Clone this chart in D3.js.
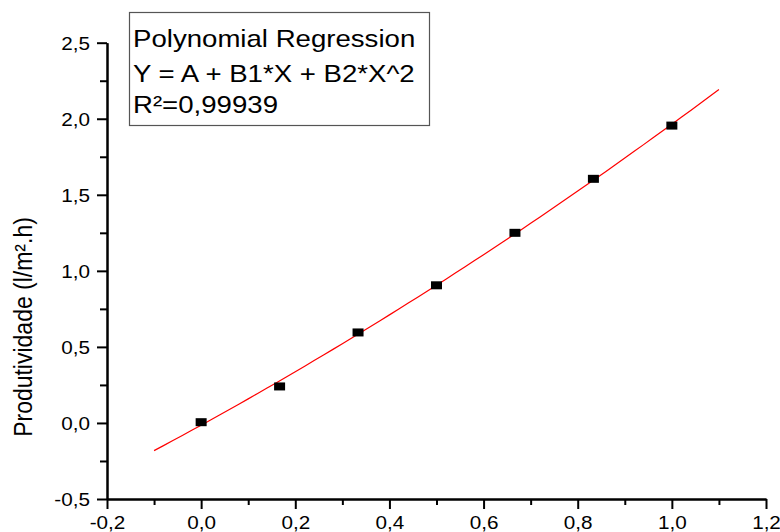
<!DOCTYPE html>
<html>
<head>
  <meta charset="UTF-8">
  <title></title>
  <style>
    body{
      margin: 0;
      background: #fff;
      font-family: 'Liberation Sans', Arial, sans-serif;
    }
    .axis path, .axis line{
      stroke: #000;
      stroke-width: 2;
    }
    .axis text{
      font-size: 18px;
      fill: #000;
    }
    .legend text{
      font-size: 24px;
    }
  </style>
</head>
<body>
  <script src="https://d3js.org/d3.v7.min.js"></script>
  <script>
    // measured values
    var xValues = [0, 1/6, 2/6, 3/6, 4/6, 5/6, 1];
    var yValues = [0.005, 0.24, 0.595, 0.905, 1.25, 1.605, 1.955];
    var xTicks = [-0.2, 0, 0.2, 0.4, 0.6, 0.8, 1.0, 1.2];
    var xMinor = [-0.1, 0.1, 0.3, 0.5, 0.7, 0.9, 1.1];
    var yTicks = [-0.5, 0, 0.5, 1.0, 1.5, 2.0, 2.5];
    var yMinor = [-0.25, 0.25, 0.75, 1.25, 1.75, 2.25];
    var fitRange = [-0.1, 1.1];
    var legendLines = ["Polynomial Regression", "Y = A + B1*X + B2*X^2", "R\u00b2=0,99939"];
    var yTitle = "Produtividade (l/m\u00b2.h)";

    var width = 780, height = 532;
    var stretch = 1.15;

    var svg = d3.select("body").append("svg")
        .attr("width", width)
        .attr("height", height);

    var x = d3.scaleLinear().domain([-0.2, 1.2]).range([107, 766]);
    var y = d3.scaleLinear().domain([-0.5, 2.5]).range([499, 42.7]);

    var fmt = function(d) { return d3.format(".1f")(d).replace(".", ",").replace("\u2212", "-"); };

    // quadratic least squares fit of the points
    function quadFit(xs, ys) {
      var n = xs.length, s = [0,0,0,0,0], t = [0,0,0];
      for (var i = 0; i < n; i++) {
        for (var k = 0; k < 5; k++) s[k] += Math.pow(xs[i], k);
        for (var k = 0; k < 3; k++) t[k] += ys[i] * Math.pow(xs[i], k);
      }
      var m = [[s[0],s[1],s[2],t[0]],[s[1],s[2],s[3],t[1]],[s[2],s[3],s[4],t[2]]];
      for (var c = 0; c < 3; c++) {
        for (var r = c+1; r < 3; r++) {
          var f = m[r][c] / m[c][c];
          for (var j = c; j < 4; j++) m[r][j] -= f * m[c][j];
        }
      }
      var b = [0,0,0];
      for (var r = 2; r >= 0; r--) {
        var v = m[r][3];
        for (var j = r+1; j < 3; j++) v -= m[r][j] * b[j];
        b[r] = v / m[r][r];
      }
      return b;
    }

    var coef = quadFit(xValues, yValues);
    var fitX = d3.range(0, 61).map(function(i) { return fitRange[0] + (fitRange[1]-fitRange[0]) * i / 60; });

    // minor ticks
    svg.append("g")
        .attr("class", "axis")
        .attr("transform", "translate(0," + y(-0.5) + ")")
        .call(d3.axisBottom(x).tickValues(xMinor).tickSize(6).tickSizeOuter(0).tickFormat(""));
    svg.append("g")
        .attr("class", "axis")
        .attr("transform", "translate(" + x(-0.2) + ",0)")
        .call(d3.axisLeft(y).tickValues(yMinor).tickSize(7).tickSizeOuter(0).tickFormat(""));

    // major ticks
    var gx = svg.append("g")
        .attr("class", "axis")
        .attr("transform", "translate(0," + y(-0.5) + ")")
        .call(d3.axisBottom(x).tickValues(xTicks).tickSize(10).tickSizeOuter(0).tickFormat(fmt));
    gx.selectAll("text")
        .attr("y", null).attr("dy", null)
        .attr("transform", "translate(0,30) scale(" + stretch + ",1)");

    var gy = svg.append("g")
        .attr("class", "axis")
        .attr("transform", "translate(" + x(-0.2) + ",0)")
        .call(d3.axisLeft(y).tickValues(yTicks).tickSize(10).tickSizeOuter(0).tickFormat(fmt));
    gy.selectAll("text")
        .attr("x", null).attr("dy", null)
        .attr("transform", "translate(-17,6.5) scale(" + stretch + ",1)");

    // fit curve
    svg.append("path")
        .datum(fitX)
        .attr("fill", "none")
        .attr("stroke", "#ff0000")
        .attr("stroke-width", 1.2)
        .attr("d", d3.line()
          .x(function(d) { return x(d); })
          .y(function(d) { return y(coef[0] + coef[1]*d + coef[2]*d*d); }));

    // data points
    svg.append("g").selectAll("rect")
        .data(xValues)
        .enter().append("rect")
          .attr("x", function(d) { return x(d) - 5.5; })
          .attr("y", function(d, i) { return y(yValues[i]) - 4; })
          .attr("width", 11)
          .attr("height", 8)
          .attr("fill", "#000");

    // y title
    svg.append("text")
        .attr("transform", "translate(32,327) scale(" + stretch + ",1) rotate(-90)")
        .attr("text-anchor", "middle")
        .style("font-size", "23px")
        .text(yTitle);

    // legend box
    var legend = svg.append("g").attr("class", "legend");
    legend.append("rect")
        .attr("x", 129.5).attr("y", 12.5)
        .attr("width", 300).attr("height", 113)
        .attr("fill", "#fff")
        .attr("stroke", "#555")
        .attr("stroke-width", 1.2);
    legend.selectAll("text")
        .data(legendLines)
        .enter().append("text")
          .attr("transform", function(d, i) { return "translate(133," + [47, 82, 113][i] + ") scale(" + stretch + ",1)"; })
          .text(function(d) { return d; });
  </script>
</body>
</html>
